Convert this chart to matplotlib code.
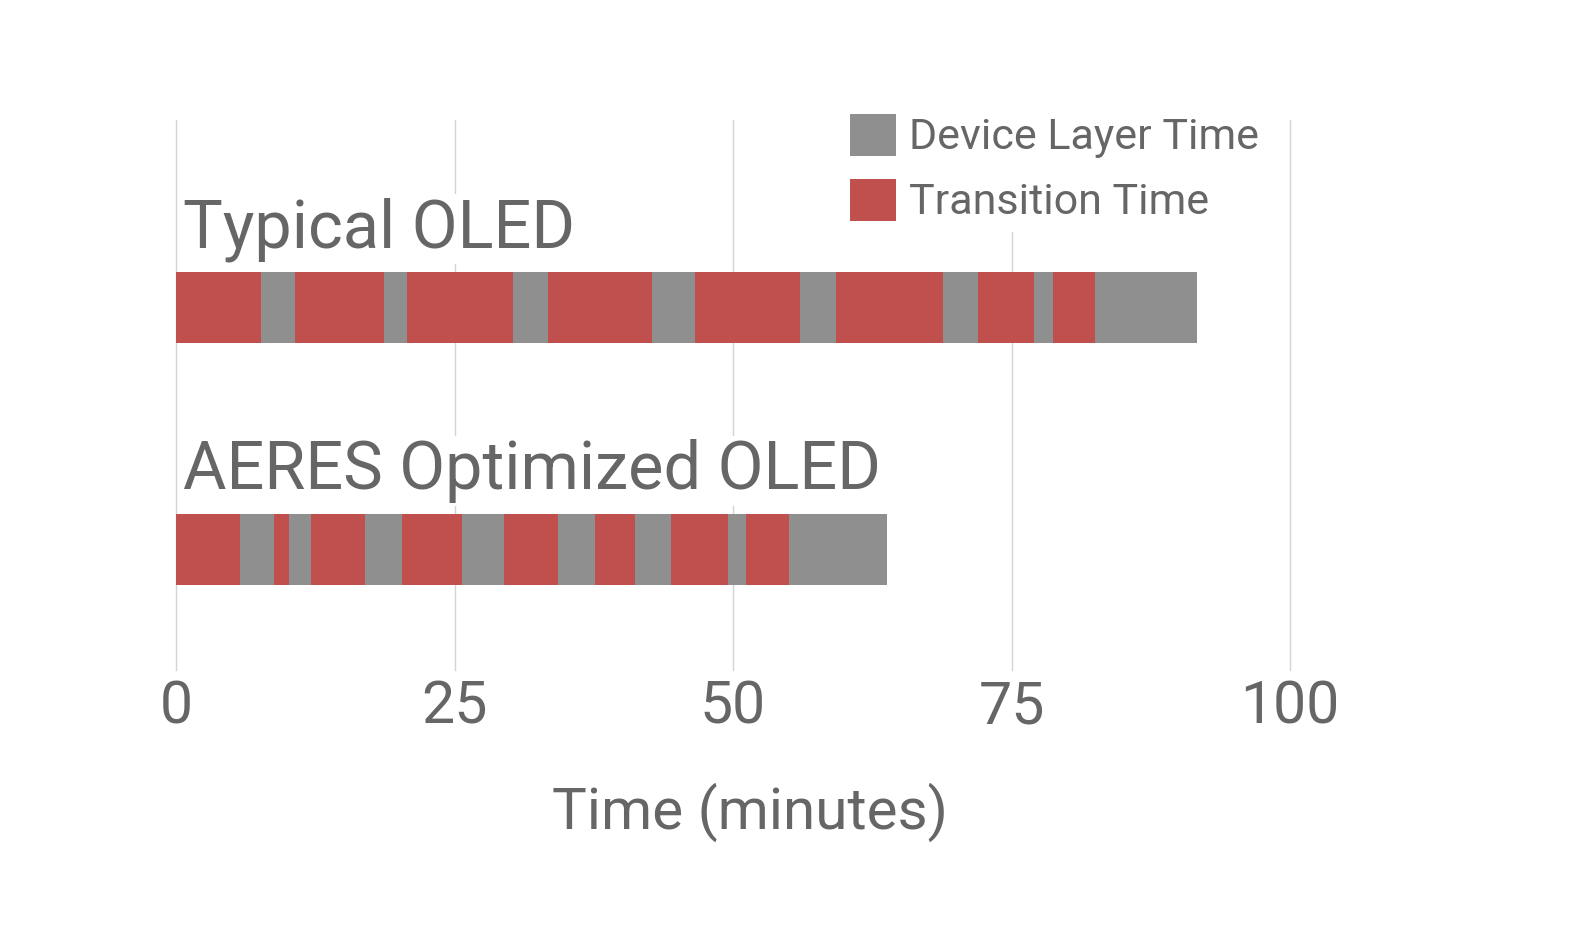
import matplotlib.pyplot as plt
from matplotlib.patches import Patch

plt.rcParams["font.family"] = ["Roboto", "DejaVu Sans"]

RED = "#C0504D"
GRAY = "#8F8F8F"
TEXT = "#666666"

# ── Data (minutes), segments alternate transition (red) / device layer (gray) ─
categories = ["AERES Optimized OLED", "Typical OLED"]
typical_segments = [7.6, 3.05, 8.0, 2.07, 9.5, 3.2, 9.35, 3.85,
                    9.4, 3.25, 9.6, 3.15, 5.0, 1.7, 3.8, 9.1]
aeres_segments = [5.75, 3.05, 1.35, 1.98, 4.85, 3.32, 5.38, 3.77,
                  4.85, 3.32, 3.59, 3.23, 5.12, 1.62, 3.86, 8.79]
x_ticks = [0, 25, 50, 75, 100]
legend_labels = ["Device Layer Time", "Transition Time"]

W, H = 1569, 932
fig = plt.figure(figsize=(W / 100, H / 100), dpi=100)
ax = fig.add_axes([176 / W, 1 - 670 / H, (1290 - 176) / W, (670 - 120) / H])

bar_h = 0.293
for ypos, segs in zip([0, 1], [aeres_segments, typical_segments]):
    left = 0.0
    for i, d in enumerate(segs):
        ax.barh(ypos, d, left=left, height=bar_h,
                color=RED if i % 2 == 0 else GRAY, lw=0, zorder=3)
        left += d

for ypos, name in zip([0, 1], categories):
    ax.text(0.6, ypos + 0.25, name, fontsize=48, color=TEXT, va="baseline",
            ha="left", zorder=4,
            bbox=dict(facecolor="white", edgecolor="none", pad=2))

ax.set_xlim(0, 100)
ax.set_ylim(-0.498, 1.775)
ax.set_xticks(x_ticks)
ax.set_yticks([])
ax.tick_params(axis="x", length=0, pad=6, labelsize=42.5, labelcolor=TEXT)
ax.grid(axis="x", color="#d3d3d3", lw=1, zorder=0, clip_on=False)
for s in ax.spines.values():
    s.set_visible(False)

ax.set_xlabel("Time (minutes)", fontsize=42, color=TEXT)
ax.xaxis.set_label_coords((750 - 176) / 1114, -0.205)

handles = [Patch(facecolor=GRAY, edgecolor="none"),
           Patch(facecolor=RED, edgecolor="none")]
leg = ax.legend(handles, legend_labels, loc="upper left",
                bbox_to_anchor=(841 / W, 1 - 105 / H),
                bbox_transform=fig.transFigure, frameon=True, fontsize=31,
                handlelength=1.08, handleheight=1.12, handletextpad=0.3,
                labelspacing=0.48, borderpad=0.2, borderaxespad=0)
leg.get_frame().set_facecolor("white")
leg.get_frame().set_edgecolor("none")
leg.get_frame().set_alpha(1)
leg.set_zorder(5)
for t in leg.get_texts():
    t.set_color(TEXT)

fig.savefig("out.png", dpi=100, facecolor="white")
